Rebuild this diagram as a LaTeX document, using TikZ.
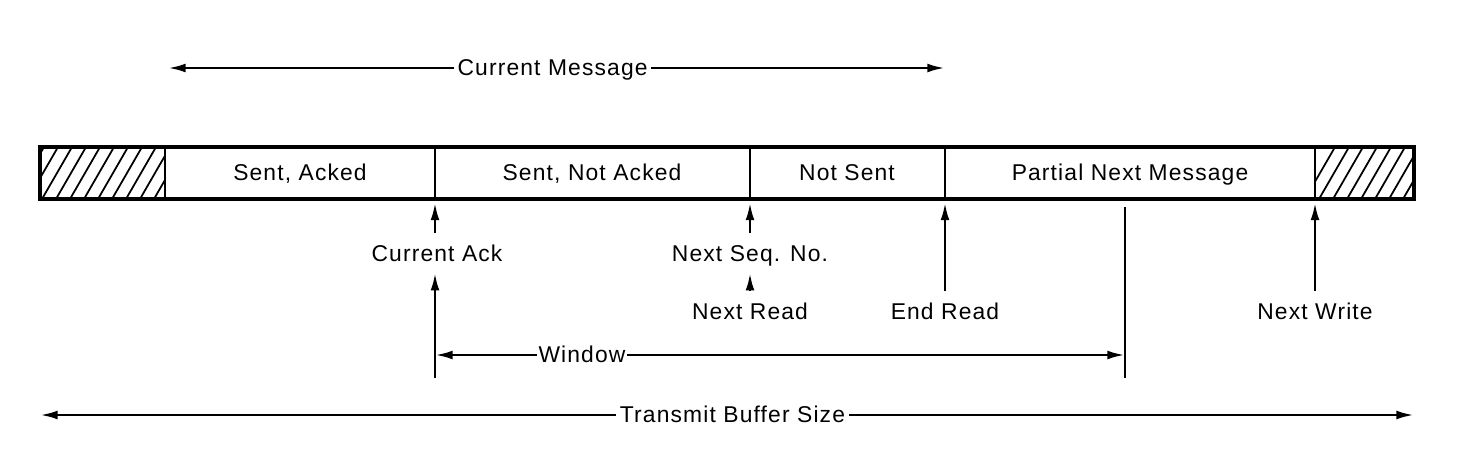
\documentclass[tikz,border=0pt]{standalone}
\usepackage{fontspec}
\setmainfont[LetterSpace=5]{Liberation Sans}
\usetikzlibrary{arrows.meta,positioning}
\tikzset{
>={Latex[length=10pt,width=5pt]},
  bar/.style={draw, line width=2pt},
  divider/.style={draw, line width=1.2pt},
  hatch/.style={line width=1pt},
  pointer/.style={draw, line width=1.5pt, ->, shorten <=3pt, shorten >=2pt},
  span/.style={draw, line width=1.5pt, <->},
  label/.style={font=\fontsize{13}{15}\selectfont, inner sep=2pt,
    text height=11pt, text depth=2pt},
  gaplabel/.style={label, fill=white, inner sep=2pt},
}
\begin{document}
\begin{tikzpicture}[x=0.02cm, y=-0.02cm]

    \useasboundingbox (0,0) rectangle (1460,461);

    % buffer corners and cell borders
    \coordinate (bufTL) at (40,147);
    \coordinate (bufBR) at (1414,199);
    \foreach \name/\x in {d1/165, d2/435, d3/750, d4/945, d5/1315} {
        \coordinate (\name top) at (\x,147);
        \coordinate (\name) at (\x,199);
    }

    % hatched ends
    \begin{scope}
        \clip (bufTL) rectangle (d1);
        \foreach \x in {0,14,...,160} \draw[hatch] (\x,199) -- (\x+30,147);
    \end{scope}
    \begin{scope}
        \clip (d5top) rectangle (bufBR);
        \foreach \x in {1305,1319,...,1440} \draw[hatch] (\x,199) -- (\x+30,147);
    \end{scope}

    \draw[bar] (bufTL) rectangle (bufBR);
    \foreach \name in {d1,d2,d3,d4,d5} \draw[divider] (\name top) -- (\name);

    % cell texts
    \node[label] (sentacked) at (300,173) {Sent, Acked};
    \node[label] (sentnotacked) at (592,173) {Sent, Not Acked};
    \node[label] (notsent) at (847,173) {Not Sent};
    \node[label] (partial) at (1130,173) {Partial Next Message};

    % current message
    \coordinate (msgL) at (168,68);
    \coordinate (msgR) at (945,68);
    \draw[span] (msgL) -- node[gaplabel, pos=0.495] (curmsg) {Current Message} (msgR);

    % pointers into the buffer
    \node[label] (ack) at (437,254) {Current Ack};
    \node[label] (seqno) at (750,254) {Next Seq. No.};
    \node[label] (nextread) at (750,312) {Next Read};
    \node[label] (endread) at (945,312) {End Read};
    \node[label] (nextwrite) at (1315,312) {Next Write};

    \draw[pointer] (ack.north -| d2) -- (d2);
    \draw[pointer] (seqno.north) -- (d3);
    \draw[pointer] (nextread.north) -- (seqno.south);
    \draw[pointer] (endread.north) -- (d4);
    \draw[pointer] (nextwrite.north) -- (d5);

    % window
    \coordinate (winbase) at (435,378);
    \coordinate (wintop) at (1125,207);
    \coordinate (winend) at (1125,378);
    \coordinate (winL) at (435,355);
    \coordinate (winR) at (1125,355);
    \draw[line width=1.5pt, ->, shorten >=2pt] (winbase) -- (ack.south -| winbase);
    \draw[line width=1.5pt] (wintop) -- (winend);
    \draw[span] (winL) -- node[gaplabel, inner sep=1pt, pos=0.213] (window) {Window} (winR);

    % transmit buffer size
    \coordinate (tbsL) at (40,415);
    \coordinate (tbsR) at (1414,415);
    \draw[span] (tbsL) -- node[gaplabel, pos=0.504] (tbs) {Transmit Buffer Size} (tbsR);

\end{tikzpicture}
\end{document}
